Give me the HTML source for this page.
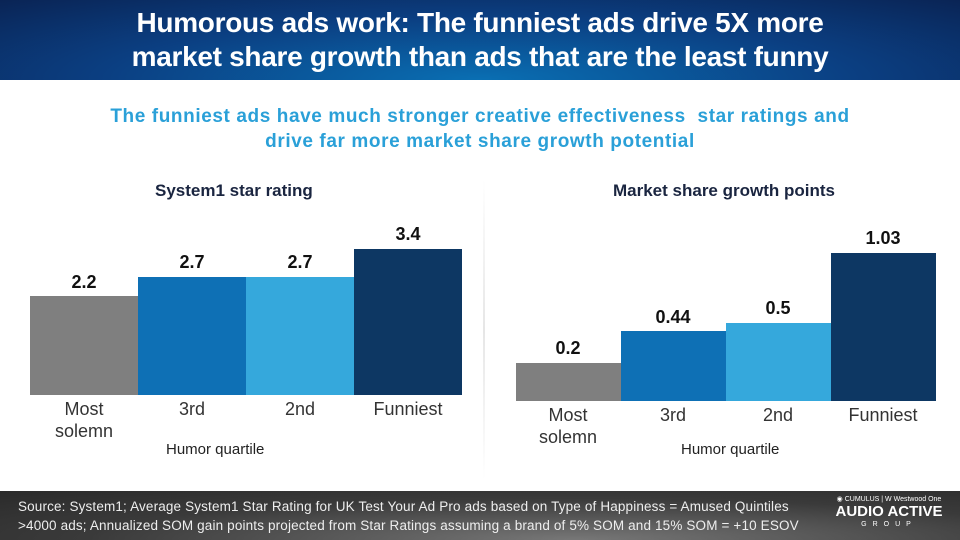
<!DOCTYPE html><html><head><style>
body{margin:0;width:960px;height:540px;position:relative;overflow:hidden;background:#fff;font-family:"Liberation Sans",sans-serif}
.hd{position:absolute;left:0;top:0;width:960px;height:80px;background:radial-gradient(ellipse at 50% 100%,#0a6fb3 0%,#0b3f82 55%,#0a2455 100%);color:#fff;text-align:center;font-weight:bold;font-size:28px;line-height:34px;padding-top:6px;box-sizing:border-box;letter-spacing:-0.3px}
.sub{position:absolute;top:104px;width:960px;text-align:center;color:#2aa0d8;font-weight:bold;font-size:19px;line-height:25px;letter-spacing:0.6px}
.t{position:absolute;font-weight:bold;font-size:17px;color:#1a2540}
.b{position:absolute}
.v{position:absolute;font-weight:bold;font-size:18px;color:#111;text-align:center;width:108px}
.x{position:absolute;font-size:18px;color:#333;text-align:center;width:108px;line-height:22px}
.q{position:absolute;font-size:15px;color:#222}
.ft{position:absolute;left:0;top:491px;width:960px;height:49px;background:radial-gradient(ellipse at 60% 100%,#777 0%,#3a3a3a 60%,#2a2a2a 100%);color:#eee;font-size:13.5px;line-height:19px;padding:6px 0 0 18px;box-sizing:border-box;letter-spacing:0.15px}
</style></head><body>
<div class="hd">Humorous ads work: The funniest ads drive 5X more<br>market share growth than ads that are the least funny</div>
<div class="sub">The funniest ads have much stronger creative effectiveness &nbsp;star ratings and<br>drive far more market share growth potential</div>
<div class="t" style="left:155px;top:181px">System1 star rating</div>
<div class="t" style="left:613px;top:181px">Market share growth points</div>
<div style="position:absolute;left:483px;top:180px;width:2px;height:300px;background:linear-gradient(#fff,#e6e6e6,#fff)"></div>
<div class="b" style="left:30px;top:296px;width:108px;height:99px;background:#7f7f7f"></div>
<div class="b" style="left:138px;top:277px;width:108px;height:118px;background:#0e70b5"></div>
<div class="b" style="left:246px;top:277px;width:108px;height:118px;background:#35a8dc"></div>
<div class="b" style="left:354px;top:249px;width:108px;height:146px;background:#0d3763"></div>
<div class="v" style="left:30px;top:272px">2.2</div>
<div class="v" style="left:138px;top:252px">2.7</div>
<div class="v" style="left:246px;top:252px">2.7</div>
<div class="v" style="left:354px;top:224px">3.4</div>
<div class="x" style="left:30px;top:398px">Most<br>solemn</div>
<div class="x" style="left:138px;top:398px">3rd</div>
<div class="x" style="left:246px;top:398px">2nd</div>
<div class="x" style="left:354px;top:398px">Funniest</div>
<div class="q" style="left:166px;top:441px">Humor quartile</div>
<div class="b" style="left:516px;top:363px;width:105px;height:38px;background:#7f7f7f"></div>
<div class="b" style="left:621px;top:331px;width:105px;height:70px;background:#0e70b5"></div>
<div class="b" style="left:726px;top:323px;width:105px;height:78px;background:#35a8dc"></div>
<div class="b" style="left:831px;top:253px;width:105px;height:148px;background:#0d3763"></div>
<div class="v" style="left:514px;top:338px">0.2</div>
<div class="v" style="left:619px;top:307px">0.44</div>
<div class="v" style="left:724px;top:298px">0.5</div>
<div class="v" style="left:829px;top:228px">1.03</div>
<div class="x" style="left:514px;top:404px">Most<br>solemn</div>
<div class="x" style="left:619px;top:404px">3rd</div>
<div class="x" style="left:724px;top:404px">2nd</div>
<div class="x" style="left:829px;top:404px">Funniest</div>
<div class="q" style="left:681px;top:441px">Humor quartile</div>
<div class="ft">Source: System1; Average System1 Star Rating for UK Test Your Ad Pro ads based on Type of Happiness = Amused Quintiles<br>&gt;4000 ads; Annualized SOM gain points projected from Star Ratings assuming a brand of 5% SOM and 15% SOM = +10 ESOV
<div style="position:absolute;left:834px;top:4px;width:110px;text-align:center;color:#fff;letter-spacing:0"><div style="font-size:7px;line-height:9px">◉ CUMULUS | W Westwood One</div><div style="font-weight:bold;font-size:15px;line-height:16px">AUDIO ACTIVE</div><div style="font-size:7px;letter-spacing:6px;line-height:9px">GROUP</div></div></div>
</body></html>
